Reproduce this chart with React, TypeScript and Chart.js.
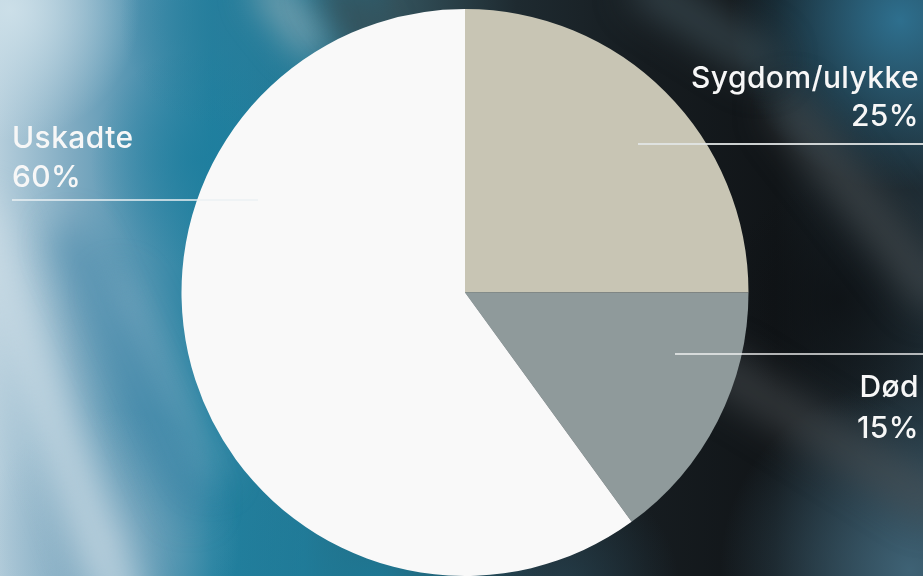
import React, { useEffect, useRef } from "react";
import { Chart, registerables } from "chart.js";

Chart.register(...registerables);

const categories = ["Sygdom/ulykke", "Død", "Uskadte"];
const values = [25, 15, 60];
const sliceColors = ["#c8c5b4", "#8f9a9b", "#f9f9f9"];

// label placement (text anchor + leader line), in canvas pixels
const labelLayout = [
  { x: 919, y1: 88, y2: 126, align: "right", lx1: 638, lx2: 923, ly: 144, lw: 2, lc: "rgba(225,228,228,0.9)" },
  { x: 919, y1: 397, y2: 438, align: "right", lx1: 675, lx2: 923, ly: 354, lw: 1.5, lc: "rgba(245,245,245,0.95)" },
  { x: 12, y1: 148, y2: 187, align: "left", lx1: 12, lx2: 258, ly: 200, lw: 2, lc: "rgba(235,240,243,0.75)" },
];

const bgPlugin = {
  id: "bg",
  beforeDraw(chart: any) {
    const ctx = chart.ctx as CanvasRenderingContext2D;
    const w = chart.width;
    const h = chart.height;
    ctx.save();
    const g = ctx.createLinearGradient(0, 0, w, 0);
    g.addColorStop(0, "#b4cddb");
    g.addColorStop(0.08, "#7eaac1");
    g.addColorStop(0.15, "#5193b0");
    g.addColorStop(0.23, "#21809f");
    g.addColorStop(0.33, "#257995");
    g.addColorStop(0.43, "#33525c");
    g.addColorStop(0.56, "#1e2a30");
    g.addColorStop(0.7, "#161c20");
    g.addColorStop(0.84, "#111518");
    g.addColorStop(1, "#1e2c34");
    ctx.fillStyle = g;
    ctx.fillRect(0, 0, w, h);

    const blob = (x: number, y: number, r: number, rgb: string, a: number) => {
      const rg = ctx.createRadialGradient(x, y, 0, x, y, r);
      rg.addColorStop(0, `rgba(${rgb},${a})`);
      rg.addColorStop(1, `rgba(${rgb},0)`);
      ctx.fillStyle = rg;
      ctx.fillRect(0, 0, w, h);
    };
    blob(900, 20, 170, "47,115,147", 0.95);
    blob(910, 570, 190, "66,104,124", 0.9);
    blob(380, 590, 170, "26,125,156", 0.9);
    blob(560, 590, 120, "40,70,85", 0.7);
    blob(10, 10, 130, "205,224,233", 0.95);
    blob(200, 160, 110, "30,126,158", 0.8);
    blob(230, 20, 110, "40,125,155", 0.8);
    blob(840, 300, 120, "12,15,18", 0.7);
    blob(110, 540, 130, "140,176,197", 0.7);

    ctx.filter = "blur(18px)";
    ctx.lineCap = "round";
    const streak = (x1: number, y1: number, x2: number, y2: number, lw: number, c: string) => {
      ctx.beginPath();
      ctx.moveTo(x1, y1);
      ctx.lineTo(x2, y2);
      ctx.lineWidth = lw;
      ctx.strokeStyle = c;
      ctx.stroke();
    };
    // light streaks on the left
    streak(-20, 220, 120, 600, 45, "rgba(205,222,231,0.75)");
    streak(120, 290, 210, 470, 30, "rgba(150,185,205,0.45)");
    // teal darker band
    streak(70, 240, 190, 500, 30, "rgba(60,130,165,0.6)");
    // top center light streak
    streak(270, -10, 310, 40, 30, "rgba(170,185,190,0.7)");
    streak(330, -10, 370, 40, 25, "rgba(60,66,68,0.8)");
    // grey streaks on the right
    streak(790, 110, 930, 290, 40, "rgba(80,86,90,0.6)");
    streak(720, 370, 930, 500, 40, "rgba(75,80,84,0.6)");
    streak(650, -10, 760, 60, 40, "rgba(70,90,98,0.6)");
    ctx.filter = "none";
    ctx.restore();
  },
};

const labelPlugin = {
  id: "labels",
  afterDraw(chart: any) {
    const ctx = chart.ctx as CanvasRenderingContext2D;
    ctx.save();
    labelLayout.forEach((L, i) => {
      ctx.beginPath();
      ctx.moveTo(L.lx1, L.ly);
      ctx.lineTo(L.lx2, L.ly);
      ctx.lineWidth = L.lw;
      ctx.strokeStyle = L.lc;
      ctx.stroke();
      ctx.font = '500 30px Inter, "Liberation Sans", Arial, sans-serif';
      (ctx as any).letterSpacing = "0.4px";
      ctx.fillStyle = "#f7f7f7";
      ctx.textBaseline = "alphabetic";
      ctx.textAlign = L.align as CanvasTextAlign;
      ctx.fillText(categories[i], L.x, L.y1);
      ctx.fillText(values[i] + "%", L.x, L.y2);
    });
    ctx.restore();
  },
};

export default function App() {
  const ref = useRef<HTMLCanvasElement>(null);
  useEffect(() => {
    const chart = new Chart(ref.current as HTMLCanvasElement, {
      type: "pie",
      data: {
        labels: categories,
        datasets: [
          {
            data: values,
            backgroundColor: sliceColors,
            borderWidth: 0,
          },
        ],
      },
      options: {
        responsive: false,
        animation: false,
        layout: { padding: { top: 9, bottom: 0, left: 181.5, right: 174.5 } },
        plugins: { legend: { display: false }, tooltip: { enabled: false } },
      },
      plugins: [bgPlugin, labelPlugin],
    });
    return () => chart.destroy();
  }, []);
  return (
    <div style={{ position: "fixed", left: 0, top: 0, width: 923, height: 576, overflow: "hidden" }}>
      <canvas ref={ref} width={923} height={576} style={{ width: 923, height: 576, display: "block" }} />
    </div>
  );
}
